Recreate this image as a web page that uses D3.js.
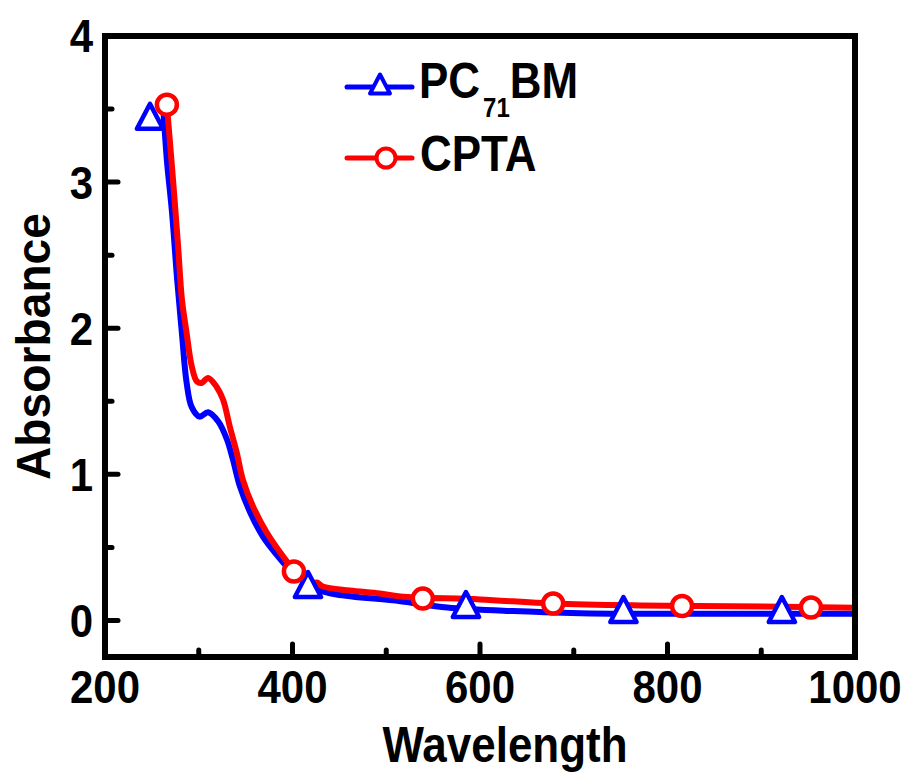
<!DOCTYPE html>
<html>
<head>
<meta charset="utf-8">
<script src="https://cdn.jsdelivr.net/npm/d3@7"></script>
<style>
  html, body { margin: 0; padding: 0; background: #fff; }
  svg { display: block; font-family: "Liberation Sans", Arial, sans-serif; font-weight: bold; }
</style>
</head>
<body>
<div id="chart"></div>
<script>
// Absorbance spectra
const pcbmWave = [262, 266, 271.5, 277, 282, 287, 292.5, 301, 310, 321, 330, 336.5, 344, 355, 368.5, 383, 397, 415, 426, 447, 515, 565, 635, 707, 771, 867, 1000];
const pcbmAbs  = [3.52, 3.15, 2.79, 2.33, 1.97, 1.63, 1.46, 1.395, 1.425, 1.36, 1.24, 1.10, 0.916, 0.738, 0.574, 0.451, 0.349, 0.26, 0.212, 0.178, 0.132, 0.089, 0.064, 0.05, 0.046, 0.046, 0.046];

const cptaWave = [266, 267, 272.5, 278, 282, 287, 292.5, 298, 303, 310, 319, 326, 333, 340.5, 347, 358, 372.5, 390, 401.5, 415, 420, 426, 432.5, 461, 493, 515, 600, 678, 771, 867, 1000];
const cptaAbs  = [3.53, 3.45, 3.02, 2.56, 2.2, 1.97, 1.74, 1.636, 1.625, 1.66, 1.60, 1.51, 1.33, 1.15, 0.964, 0.779, 0.602, 0.438, 0.345, 0.28, 0.253, 0.26, 0.232, 0.205, 0.185, 0.164, 0.144, 0.116, 0.103, 0.098, 0.087];

// marker positions (Origin draws markers every n-th point)
const pcbmMarkWave = [248, 416.5, 585, 753, 922];
const pcbmMarkAbs  = [3.45, 0.246, 0.109, 0.075, 0.075];
const cptaMarkWave = [266, 401.5, 539, 678, 815.5, 953];
const cptaMarkAbs  = [3.53, 0.335, 0.150, 0.116, 0.099, 0.089];

const xTicks = [200, 400, 600, 800, 1000];
const xMinor = [300, 500, 700, 900];
const yTicks = [0, 1, 2, 3, 4];
const yMinor = [0.5, 1.5, 2.5, 3.5];

const W = 905, H = 775;
const pLeft = 105, pRight = 855, pTop = 36, pBottom = 657;
const stretch = 1.12; // the original lettering is a bit taller than Arial

const svg = d3.select('#chart').append('svg')
  .attr('width', W)
  .attr('height', H);

const x = d3.scaleLinear().domain([200, 1000]).range([pLeft, pRight]);
const y = d3.scaleLinear().domain([-0.25, 4]).range([pBottom, pTop]);

// Ticks (inward, round caps)
const tickG = svg.append('g')
  .attr('stroke', '#000')
  .attr('stroke-width', 5)
  .attr('stroke-linecap', 'round');

tickG.selectAll('.xmaj').data(xTicks).enter().append('line')
  .attr('x1', d => x(d)).attr('x2', d => x(d))
  .attr('y1', pBottom).attr('y2', pBottom - 13);
tickG.selectAll('.xmin').data(xMinor).enter().append('line')
  .attr('x1', d => x(d)).attr('x2', d => x(d))
  .attr('y1', pBottom).attr('y2', pBottom - 7);
tickG.selectAll('.ymaj').data(yTicks).enter().append('line')
  .attr('y1', d => y(d)).attr('y2', d => y(d))
  .attr('x1', pLeft).attr('x2', pLeft + 13);
tickG.selectAll('.ymin').data(yMinor).enter().append('line')
  .attr('y1', d => y(d)).attr('y2', d => y(d))
  .attr('x1', pLeft).attr('x2', pLeft + 7);

// Tick labels
svg.append('g').selectAll('text').data(xTicks).enter().append('text')
  .attr('transform', d => `translate(${x(d)},703) scale(1,${stretch})`)
  .attr('text-anchor', 'middle')
  .attr('font-size', 42)
  .text(d => d);

svg.append('g').selectAll('text').data(yTicks).enter().append('text')
  .attr('transform', d => `translate(93,${y(d)}) scale(1,${stretch})`)
  .attr('dy', '0.35em')
  .attr('text-anchor', 'end')
  .attr('font-size', 42)
  .text(d => d);

// Axis titles
svg.append('text')
  .attr('transform', `translate(505,762) scale(1,${stretch})`)
  .attr('text-anchor', 'middle')
  .attr('font-size', 44)
  .text('Wavelength');

svg.append('text')
  .attr('transform', `translate(50,${(pTop + pBottom) / 2}) rotate(-90) scale(1.05,1.08)`)
  .attr('text-anchor', 'middle')
  .attr('font-size', 44)
  .text('Absorbance');

// Curves
const line = d3.line()
  .x(d => x(d[0]))
  .y(d => y(d[1]))
  .curve(d3.curveCatmullRom.alpha(0.5));

const plot = svg.append('g');

plot.append('path')
  .datum(d3.zip(pcbmWave, pcbmAbs))
  .attr('fill', 'none')
  .attr('stroke', '#0000ff')
  .attr('stroke-width', 6)
  .attr('stroke-linejoin', 'round')
  .attr('d', line);

plot.append('path')
  .datum(d3.zip(cptaWave, cptaAbs))
  .attr('fill', 'none')
  .attr('stroke', '#ff0000')
  .attr('stroke-width', 6)
  .attr('stroke-linejoin', 'round')
  .attr('d', line);

function triPath(s) {
  return `M0,${-s}L${s * 1.05},${s}L${-s * 1.05},${s}Z`;
}

plot.selectAll('.tri').data(d3.zip(pcbmMarkWave, pcbmMarkAbs)).enter().append('path')
  .attr('transform', d => `translate(${x(d[0])},${y(d[1])})`)
  .attr('d', triPath(12.5))
  .attr('fill', '#fff')
  .attr('stroke', '#0000ff')
  .attr('stroke-width', 4.5)
  .attr('stroke-linejoin', 'round');

plot.selectAll('.circ').data(d3.zip(cptaMarkWave, cptaMarkAbs)).enter().append('circle')
  .attr('cx', d => x(d[0]))
  .attr('cy', d => y(d[1]))
  .attr('r', 10)
  .attr('fill', '#fff')
  .attr('stroke', '#ff0000')
  .attr('stroke-width', 4.5);

// Frame
svg.append('rect')
  .attr('x', pLeft).attr('y', pTop)
  .attr('width', pRight - pLeft).attr('height', pBottom - pTop)
  .attr('fill', 'none')
  .attr('stroke', '#000')
  .attr('stroke-width', 6);

// Legend
const lg = svg.append('g');
lg.append('line').attr('x1', 347).attr('x2', 412).attr('y1', 87).attr('y2', 87)
  .attr('stroke', '#0000ff').attr('stroke-width', 5).attr('stroke-linecap', 'round');
lg.append('path').attr('transform', 'translate(380,84)').attr('d', triPath(9.5))
  .attr('fill', '#fff').attr('stroke', '#0000ff').attr('stroke-width', 4).attr('stroke-linejoin', 'round');
const t1 = lg.append('text')
  .attr('transform', `translate(419,98) scale(1,${stretch})`)
  .attr('font-size', 44);
t1.append('tspan').text('PC');
t1.append('tspan').attr('dx', 3).attr('dy', 17).attr('font-size', 24).text('71');
t1.append('tspan').attr('dy', -17).text('BM');

lg.append('line').attr('x1', 347).attr('x2', 412).attr('y1', 158).attr('y2', 158)
  .attr('stroke', '#ff0000').attr('stroke-width', 5).attr('stroke-linecap', 'round');
lg.append('circle').attr('cx', 386).attr('cy', 158).attr('r', 9.5)
  .attr('fill', '#fff').attr('stroke', '#ff0000').attr('stroke-width', 4);
lg.append('text')
  .attr('transform', `translate(420,171) scale(1,${stretch})`)
  .attr('font-size', 44)
  .text('CPTA');
</script>
</body>
</html>
